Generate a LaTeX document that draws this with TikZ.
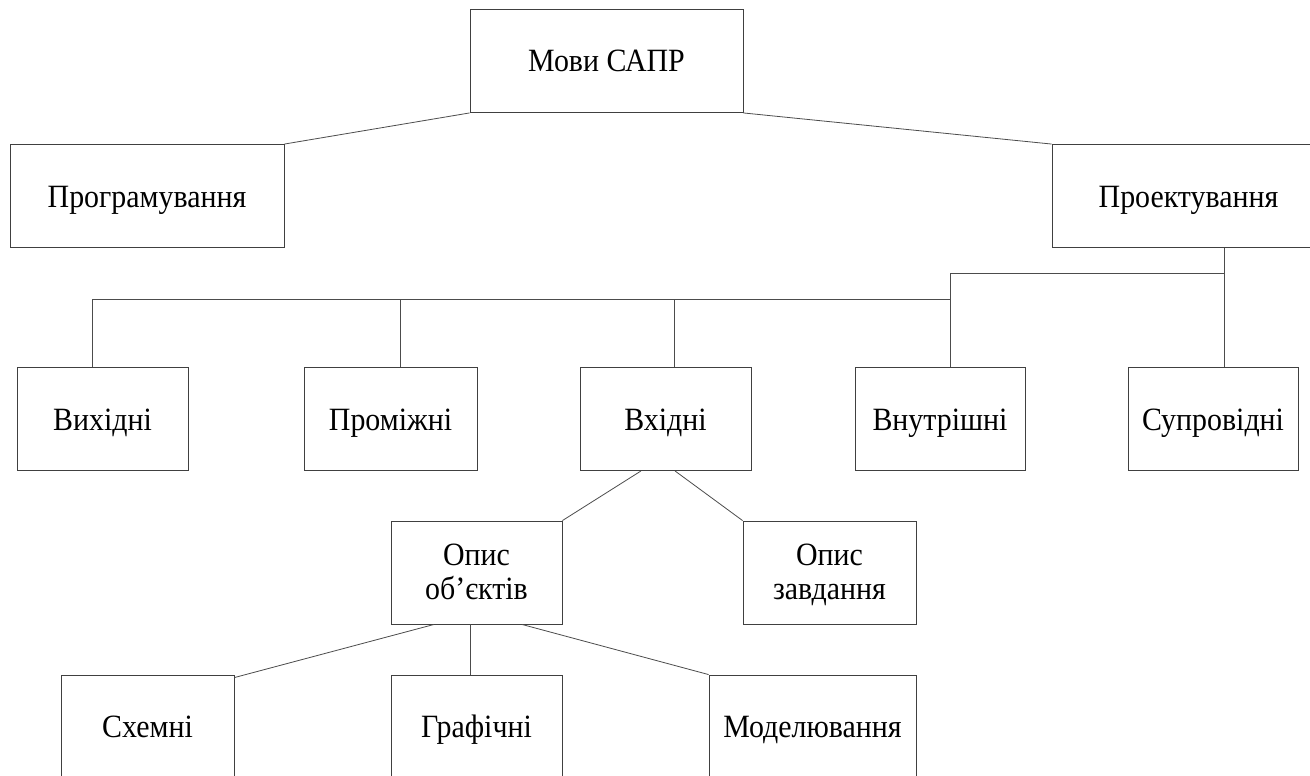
\documentclass[tikz,border=0pt]{standalone}
\usepackage{fontspec}
\setmainfont{Liberation Serif}[FakeStretch=0.92]
\usetikzlibrary{calc}
\tikzset{
  box/.style={draw=black!75, line width=0.9pt, rectangle, inner sep=0pt,
    minimum height=103pt, align=center, text height=22pt, text depth=0pt,
    font=\fontsize{32.5}{34}\selectfont},
  twoline/.style={text height=53pt}, % last-line baseline sits 26.5pt below centre
  link/.style={draw=black!70, line width=0.8pt}
}
\begin{document}
\begin{tikzpicture}[x=1pt,y=-1pt]
\useasboundingbox (0,0) rectangle (1310,776);
\clip (0,0) rectangle (1310,776);
\fill[white] (0,0) rectangle (1310,776);

% top level
\node[box, minimum width=273pt] (mova) at (606.5,61) {Мови САПР};
\node[box, minimum width=274pt] (prog) at (147,196) {Програмування};
\node[box, minimum width=273pt] (proj) at (1188.5,196) {Проектування};

% second level
\node[box, minimum width=171pt] (vyh)  at (102.5,419) {Вихідні};
\node[box, minimum width=173pt] (prom) at (390.5,419) {Проміжні};
\node[box, minimum width=171pt] (vhid) at (665.5,419) {Вхідні};
\node[box, minimum width=170pt] (vnut) at (940,419)   {Внутрішні};
\node[box, minimum width=170pt] (sup)  at (1213,419)  {Супровідні};

% third level
\node[box, twoline, minimum width=171pt] (opob)  at (476.5,572.5) {Опис\\об’єктів};
\node[box, twoline, minimum width=173pt] (opzav) at (829.5,572.5) {Опис\\завдання};

% fourth level
\node[box, minimum width=173pt] (shem) at (147.5,726.5) {Схемні};
\node[box, minimum width=171pt] (graf) at (476.5,726.5) {Графічні};
\node[box, minimum width=207pt] (mod)  at (812.5,726.5) {Моделювання};

% bus junctions
\coordinate (b1) at (1224,273);
\coordinate (b2) at (950,273);
\coordinate (b3) at (92,299);
\coordinate (b4) at (400,299);
\coordinate (b5) at (674,299);

% connectors
\draw[link] (prog.north east) -- (mova.south west);
\draw[link] (mova.south east) -- (proj.north west);
\draw[link] (b1 |- proj.south) -- (b1 |- sup.north);
\draw[link] (b1) -- (b2) -- (b2 |- vnut.north);
\draw[link] (b3) -- (b2 |- b3);
\draw[link] (b3) -- (b3 |- vyh.north);
\draw[link] (b4) -- (b4 |- prom.north);
\draw[link] (b5) -- (b5 |- vhid.north);

\draw[link] ($(vhid.south)+(-24.5,0)$) -- (opob.north east);
\draw[link] ($(vhid.south)+(9.5,0)$) -- (opzav.north west);

\draw[link] ($(opob.south)+(-42.5,0)$) -- ($(shem.north east)+(0,3)$);
\draw[link] ($(opob.south)+(-6.5,0)$) -- ($(graf.north)+(-6.5,0)$);
\draw[link] ($(opob.south)+(45.5,0)$) -- (mod.north west);
\end{tikzpicture}
\end{document}
